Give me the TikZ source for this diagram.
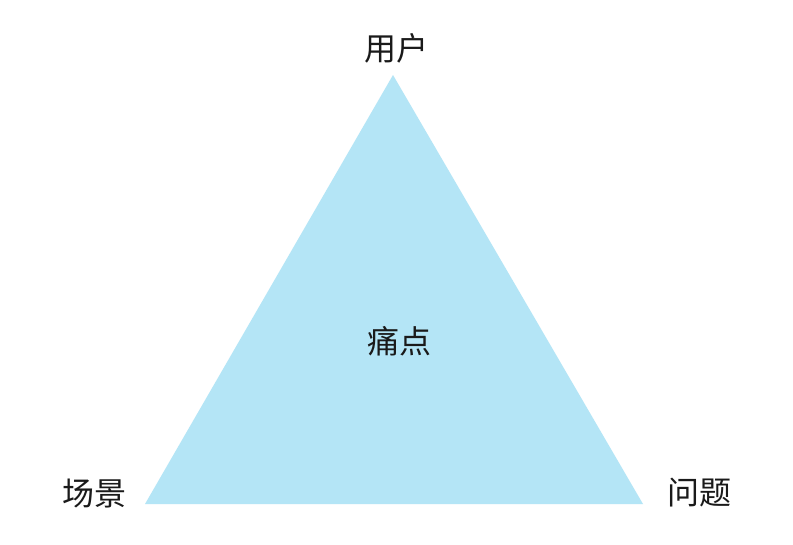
\documentclass[tikz,border=0pt]{standalone}
\usepackage{fontspec}
\newfontfamily\cjk{Noto Sans CJK SC}
\definecolor{tri}{HTML}{B4E5F6}
\definecolor{ink}{HTML}{1A1A1A}
\begin{document}
\begin{tikzpicture}[x=1pt,y=-1pt,
  lbl/.style={font=\cjk\fontsize{32}{38}\selectfont, text=ink, inner sep=0pt}]
\useasboundingbox (0,0) rectangle (793,544);
\fill[white] (0,0) rectangle (793,544);
\coordinate (apex) at (393,75);
\coordinate (bl) at (145,504);
\coordinate (br) at (643,504);
\fill[tri] (apex) -- (bl) -- (br) -- cycle;
\node[lbl] (user) at (396,48) {用户};
\node[lbl] (scene) at (94,494) {场景};
\node[lbl] (problem) at (699,493) {问题};
\node[lbl] (pain) at (399,341) {痛点};
\end{tikzpicture}
\end{document}
